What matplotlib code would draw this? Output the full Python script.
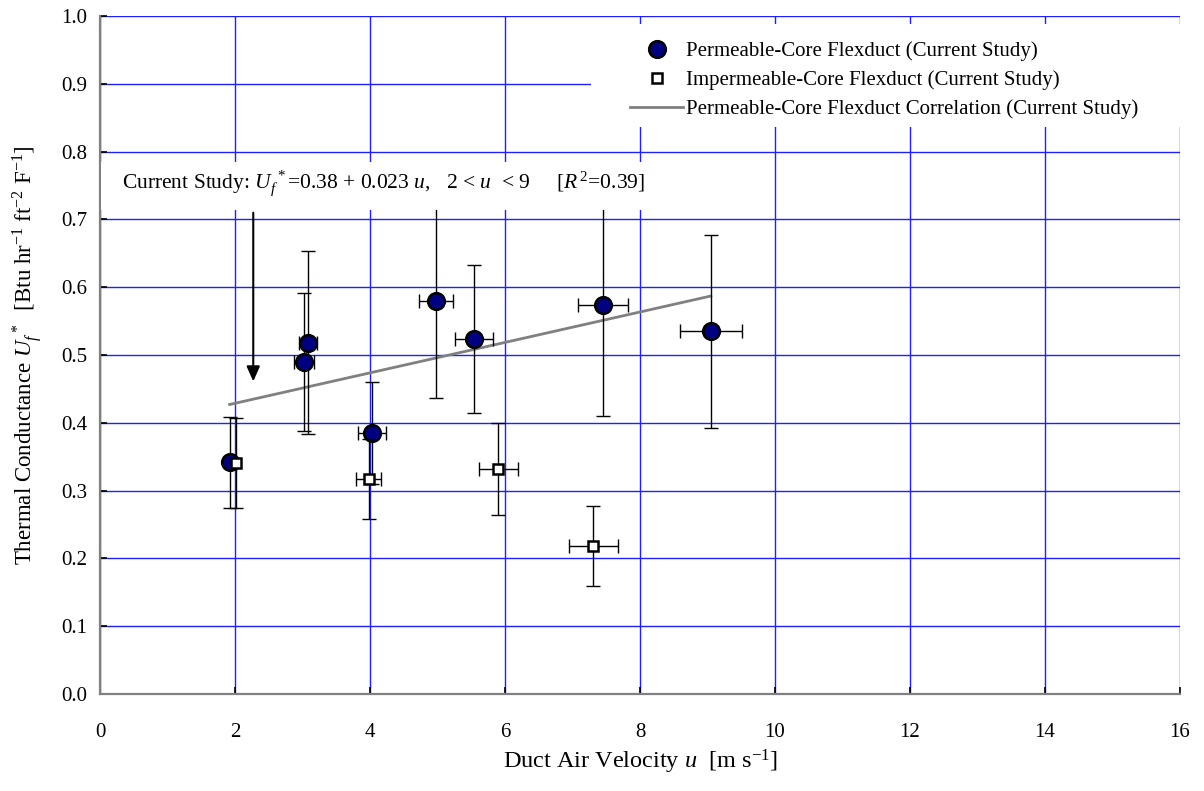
import numpy as np
import matplotlib.pyplot as plt
from matplotlib.patches import Rectangle

plt.rcParams['font.family'] = ['Liberation Serif', 'DejaVu Serif']
plt.rcParams['mathtext.fontset'] = 'custom'
plt.rcParams['mathtext.rm'] = 'Liberation Serif'
plt.rcParams['mathtext.it'] = 'Liberation Serif:italic'
plt.rcParams['mathtext.bf'] = 'Liberation Serif:bold'

# permeable-core flexduct (filled circles)
perm_u = [1.92, 3.02, 3.08, 4.03, 4.98, 5.54, 7.45, 9.05]
perm_uf = [0.342, 0.490, 0.518, 0.385, 0.580, 0.524, 0.574, 0.535]
perm_yerr = [0.067, 0.102, 0.135, 0.075, 0.143, 0.109, 0.164, 0.142]
perm_xerr = [0.0, 0.15, 0.13, 0.21, 0.25, 0.28, 0.37, 0.46]

# impermeable-core flexduct (open squares)
imp_u = [2.01, 3.98, 5.90, 7.31]
imp_uf = [0.341, 0.317, 0.332, 0.219]
imp_yerr = [0.066, 0.059, 0.068, 0.059]
imp_xerr = [0.0, 0.19, 0.29, 0.36]

# correlation line endpoints
fit_u = [1.92, 9.05]
fit_uf = [0.427, 0.587]

xticks = np.arange(0, 17, 2)
yticks = np.arange(0, 1.01, 0.1)

fig = plt.figure(figsize=(12.04, 7.91), dpi=100)
ax = fig.add_axes([0.0831, 0.1226, 0.8969, 0.8572])

ax.set_xlim(0, 16)
ax.set_ylim(0, 1.0)
ax.set_xticks(xticks)
ax.set_yticks(yticks)
ax.set_yticklabels([f'{v:.1f}' for v in yticks])
ax.tick_params(direction='in', length=5, width=1.2, labelsize=15, color='k')
ax.tick_params(axis='x', pad=21)
ax.tick_params(axis='y', pad=9)
ax.set_axisbelow(True)
ax.grid(True, color='#2020ff', lw=1.0)
for s in ['top', 'right']:
    ax.spines[s].set_visible(False)
for s in ['left', 'bottom']:
    ax.spines[s].set_color('#808080')
    ax.spines[s].set_linewidth(1.6)

# white boxes behind legend and annotation
ax.add_patch(Rectangle((7.27, 0.836), 8.73, 0.152, facecolor='white', edgecolor='none', zorder=1))
ax.add_patch(Rectangle((0.02, 0.714), 8.1, 0.071, facecolor='white', edgecolor='none', zorder=4.5))

ax.plot(fit_u, fit_uf, color='#808080', lw=2.0, zorder=2,
        label='Permeable-Core Flexduct Correlation (Current Study)')

ax.errorbar(perm_u, perm_uf, yerr=perm_yerr, xerr=perm_xerr, fmt='none',
            ecolor='k', elinewidth=1.0, capsize=5, capthick=1.0, zorder=3)
ax.plot(perm_u, perm_uf, 'o', ms=12, mfc='#000080', mec='k', mew=1.8, zorder=5,
        label='Permeable-Core Flexduct (Current Study)')

ax.errorbar(imp_u, imp_uf, yerr=imp_yerr, xerr=imp_xerr, fmt='none',
            ecolor='k', elinewidth=1.0, capsize=5, capthick=1.0, zorder=5.5)
ax.plot(imp_u, imp_uf, 's', ms=7.5, mfc='white', mec='k', mew=1.8, zorder=6,
        label='Impermeable-Core Flexduct (Current Study)')

ax.annotate('', xy=(2.27, 0.457), xytext=(2.27, 0.714),
            arrowprops=dict(arrowstyle='-|>,head_length=0.9,head_width=0.4',
                            color='k', lw=1.5), zorder=6)

ax.text(0.33, 0.754,
        r'Current Study: $U_f^{\ *}$=0.38 + 0.023 $u$,   2 < $u$  < 9     [$R^{\,2}$=0.39]',
        fontsize=15.5, va='center', ha='left', zorder=7)

h, l = ax.get_legend_handles_labels()
order = [1, 2, 0]
ax.legend([h[i] for i in order], [l[i] for i in order], loc='upper left',
          bbox_to_anchor=(0.4907, 0.963), frameon=False, fontsize=15,
          handlelength=2.55, handletextpad=0.15, labelspacing=0.45,
          borderpad=0, borderaxespad=0)

ax.set_xlabel(r'Duct Air Velocity $u$  [m s$^{-1}$]', fontsize=17.5, labelpad=4)
ax.set_ylabel(r'Thermal Conductance $U_f^{\ *}$  [Btu hr$^{-1}$ ft$^{-2}$ F$^{-1}$]',
              fontsize=16.5, labelpad=12)

fig.savefig('out.png', dpi=100)
